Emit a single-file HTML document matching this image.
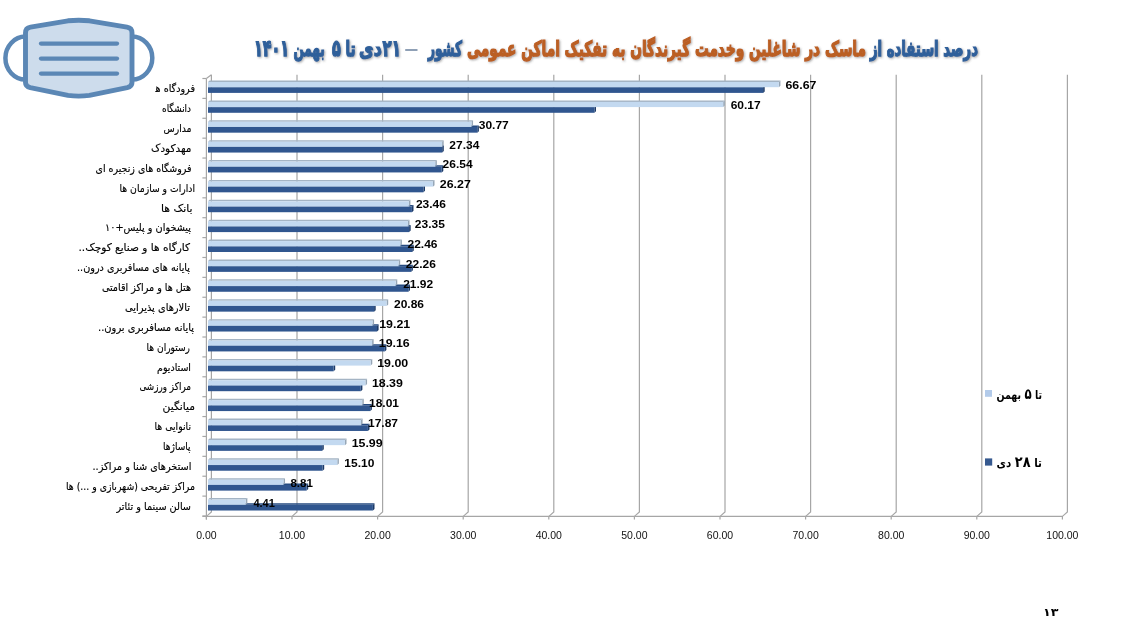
<!DOCTYPE html>
<html lang="fa">
<head>
<meta charset="utf-8">
<title>درصد استفاده از ماسک</title>
<style>
html,body{margin:0;padding:0;background:#fff;}
body{width:1143px;height:630px;position:relative;overflow:hidden;}
#chart{position:absolute;left:0;top:0;will-change:transform;}
</style>
</head>
<body>
<svg id="chart" width="1143" height="630" viewBox="0 0 1143 630">
<defs><filter id="tsh" x="-5%" y="-30%" width="110%" height="160%"><feGaussianBlur in="SourceAlpha" stdDeviation="0.8"/><feOffset dx="0.8" dy="0.8" result="b"/><feFlood flood-color="#505050" flood-opacity="0.5"/><feComposite in2="b" operator="in"/><feMerge><feMergeNode/><feMergeNode in="SourceGraphic"/></feMerge></filter></defs>
<g id="grid" fill="none" stroke="#a6a6a6" stroke-width="1.2"><path d="M211.4 74.8V512.0L206.4 516.4V519.6"/><path d="M297 74.8V512.0L292 516.4V519.6"/><path d="M382.6 74.8V512.0L377.6 516.4V519.6"/><path d="M468.2 74.8V512.0L463.2 516.4V519.6"/><path d="M553.8 74.8V512.0L548.8 516.4V519.6"/><path d="M639.4 74.8V512.0L634.4 516.4V519.6"/><path d="M725 74.8V512.0L720 516.4V519.6"/><path d="M810.6 74.8V512.0L805.6 516.4V519.6"/><path d="M896.2 74.8V512.0L891.2 516.4V519.6"/><path d="M981.8 74.8V512.0L976.8 516.4V519.6"/><path d="M1067.4 74.8V512.0L1062.4 516.4V519.6"/><path d="M206.4 78.5V519.6"/><path d="M206.4 78.5L211.4 74.8"/><path d="M202.4 516.4H1062.4"/><path d="M202.4 78.5H206.4"/><path d="M202.4 98.39H206.4"/><path d="M202.4 118.27H206.4"/><path d="M202.4 138.16H206.4"/><path d="M202.4 158.04H206.4"/><path d="M202.4 177.93H206.4"/><path d="M202.4 197.82H206.4"/><path d="M202.4 217.7H206.4"/><path d="M202.4 237.59H206.4"/><path d="M202.4 257.47H206.4"/><path d="M202.4 277.36H206.4"/><path d="M202.4 297.25H206.4"/><path d="M202.4 317.13H206.4"/><path d="M202.4 337.02H206.4"/><path d="M202.4 356.9H206.4"/><path d="M202.4 376.79H206.4"/><path d="M202.4 396.68H206.4"/><path d="M202.4 416.56H206.4"/><path d="M202.4 436.45H206.4"/><path d="M202.4 456.33H206.4"/><path d="M202.4 476.22H206.4"/><path d="M202.4 496.11H206.4"/><path d="M202.4 515.99H206.4"/></g>
<g id="bars"><path fill="#254a80" d="M208.0 87.2L209.6 85.7H764.7L763.1 87.2Z"/><path fill="#1d3b68" d="M763.1 87.2L764.7 85.7V91.4L763.1 92.9Z"/><rect fill="#30568f" x="208.0" y="87.2" width="555.1" height="5.7"/><path fill="#a4b4c4" d="M208.0 82L209.6 80.5H780.43L778.83 82Z"/><path fill="#96a6b6" d="M778.83 82L780.43 80.5V85.7L778.83 87.2Z"/><rect fill="#c3d9f0" x="208.0" y="82" width="570.83" height="5.2"/><path fill="#254a80" d="M208.0 107.09L209.6 105.59H596L594.4 107.09Z"/><path fill="#1d3b68" d="M594.4 107.09L596 105.59V111.29L594.4 112.79Z"/><rect fill="#30568f" x="208.0" y="107.09" width="386.4" height="5.7"/><path fill="#a4b4c4" d="M208.0 101.89L209.6 100.39H724.78L723.18 101.89Z"/><path fill="#96a6b6" d="M723.18 101.89L724.78 100.39V105.59L723.18 107.09Z"/><rect fill="#c3d9f0" x="208.0" y="101.89" width="515.18" height="5.2"/><path fill="#254a80" d="M208.0 126.97L209.6 125.47H478.9L477.3 126.97Z"/><path fill="#1d3b68" d="M477.3 126.97L478.9 125.47V131.17L477.3 132.67Z"/><rect fill="#30568f" x="208.0" y="126.97" width="269.3" height="5.7"/><path fill="#a4b4c4" d="M208.0 121.77L209.6 120.27H473.05L471.45 121.77Z"/><path fill="#96a6b6" d="M471.45 121.77L473.05 120.27V125.47L471.45 126.97Z"/><rect fill="#c3d9f0" x="208.0" y="121.77" width="263.45" height="5.2"/><path fill="#254a80" d="M208.0 146.86L209.6 145.36H443.8L442.2 146.86Z"/><path fill="#1d3b68" d="M442.2 146.86L443.8 145.36V151.06L442.2 152.56Z"/><rect fill="#30568f" x="208.0" y="146.86" width="234.2" height="5.7"/><path fill="#a4b4c4" d="M208.0 141.66L209.6 140.16H443.69L442.09 141.66Z"/><path fill="#96a6b6" d="M442.09 141.66L443.69 140.16V145.36L442.09 146.86Z"/><rect fill="#c3d9f0" x="208.0" y="141.66" width="234.09" height="5.2"/><path fill="#254a80" d="M208.0 166.74L209.6 165.24H443.3L441.7 166.74Z"/><path fill="#1d3b68" d="M441.7 166.74L443.3 165.24V170.94L441.7 172.44Z"/><rect fill="#30568f" x="208.0" y="166.74" width="233.7" height="5.7"/><path fill="#a4b4c4" d="M208.0 161.54L209.6 160.04H436.84L435.24 161.54Z"/><path fill="#96a6b6" d="M435.24 161.54L436.84 160.04V165.24L435.24 166.74Z"/><rect fill="#c3d9f0" x="208.0" y="161.54" width="227.24" height="5.2"/><path fill="#254a80" d="M208.0 186.63L209.6 185.13H425L423.4 186.63Z"/><path fill="#1d3b68" d="M423.4 186.63L425 185.13V190.83L423.4 192.33Z"/><rect fill="#30568f" x="208.0" y="186.63" width="215.4" height="5.7"/><path fill="#a4b4c4" d="M208.0 181.43L209.6 179.93H434.52L432.92 181.43Z"/><path fill="#96a6b6" d="M432.92 181.43L434.52 179.93V185.13L432.92 186.63Z"/><rect fill="#c3d9f0" x="208.0" y="181.43" width="224.92" height="5.2"/><path fill="#254a80" d="M208.0 206.52L209.6 205.02H413.5L411.9 206.52Z"/><path fill="#1d3b68" d="M411.9 206.52L413.5 205.02V210.72L411.9 212.22Z"/><rect fill="#30568f" x="208.0" y="206.52" width="203.9" height="5.7"/><path fill="#a4b4c4" d="M208.0 201.32L209.6 199.82H410.46L408.86 201.32Z"/><path fill="#96a6b6" d="M408.86 201.32L410.46 199.82V205.02L408.86 206.52Z"/><rect fill="#c3d9f0" x="208.0" y="201.32" width="200.86" height="5.2"/><path fill="#254a80" d="M208.0 226.4L209.6 224.9H410.7L409.1 226.4Z"/><path fill="#1d3b68" d="M409.1 226.4L410.7 224.9V230.6L409.1 232.1Z"/><rect fill="#30568f" x="208.0" y="226.4" width="201.1" height="5.7"/><path fill="#a4b4c4" d="M208.0 221.2L209.6 219.7H409.52L407.92 221.2Z"/><path fill="#96a6b6" d="M407.92 221.2L409.52 219.7V224.9L407.92 226.4Z"/><rect fill="#c3d9f0" x="208.0" y="221.2" width="199.92" height="5.2"/><path fill="#254a80" d="M208.0 246.29L209.6 244.79H413.8L412.2 246.29Z"/><path fill="#1d3b68" d="M412.2 246.29L413.8 244.79V250.49L412.2 251.99Z"/><rect fill="#30568f" x="208.0" y="246.29" width="204.2" height="5.7"/><path fill="#a4b4c4" d="M208.0 241.09L209.6 239.59H401.9L400.3 241.09Z"/><path fill="#96a6b6" d="M400.3 241.09L401.9 239.59V244.79L400.3 246.29Z"/><rect fill="#c3d9f0" x="208.0" y="241.09" width="192.3" height="5.2"/><path fill="#254a80" d="M208.0 266.17L209.6 264.67H412.9L411.3 266.17Z"/><path fill="#1d3b68" d="M411.3 266.17L412.9 264.67V270.37L411.3 271.87Z"/><rect fill="#30568f" x="208.0" y="266.17" width="203.3" height="5.7"/><path fill="#a4b4c4" d="M208.0 260.97L209.6 259.47H400.19L398.59 260.97Z"/><path fill="#96a6b6" d="M398.59 260.97L400.19 259.47V264.67L398.59 266.17Z"/><rect fill="#c3d9f0" x="208.0" y="260.97" width="190.59" height="5.2"/><path fill="#254a80" d="M208.0 286.06L209.6 284.56H410L408.4 286.06Z"/><path fill="#1d3b68" d="M408.4 286.06L410 284.56V290.26L408.4 291.76Z"/><rect fill="#30568f" x="208.0" y="286.06" width="200.4" height="5.7"/><path fill="#a4b4c4" d="M208.0 280.86L209.6 279.36H397.28L395.68 280.86Z"/><path fill="#96a6b6" d="M395.68 280.86L397.28 279.36V284.56L395.68 286.06Z"/><rect fill="#c3d9f0" x="208.0" y="280.86" width="187.68" height="5.2"/><path fill="#254a80" d="M208.0 305.95L209.6 304.45H375.7L374.1 305.95Z"/><path fill="#1d3b68" d="M374.1 305.95L375.7 304.45V310.15L374.1 311.65Z"/><rect fill="#30568f" x="208.0" y="305.95" width="166.1" height="5.7"/><path fill="#a4b4c4" d="M208.0 300.75L209.6 299.25H388.2L386.6 300.75Z"/><path fill="#96a6b6" d="M386.6 300.75L388.2 299.25V304.45L386.6 305.95Z"/><rect fill="#c3d9f0" x="208.0" y="300.75" width="178.6" height="5.2"/><path fill="#254a80" d="M208.0 325.83L209.6 324.33H378.6L377 325.83Z"/><path fill="#1d3b68" d="M377 325.83L378.6 324.33V330.03L377 331.53Z"/><rect fill="#30568f" x="208.0" y="325.83" width="169" height="5.7"/><path fill="#a4b4c4" d="M208.0 320.63L209.6 319.13H374.08L372.48 320.63Z"/><path fill="#96a6b6" d="M372.48 320.63L374.08 319.13V324.33L372.48 325.83Z"/><rect fill="#c3d9f0" x="208.0" y="320.63" width="164.48" height="5.2"/><path fill="#254a80" d="M208.0 345.72L209.6 344.22H386.4L384.8 345.72Z"/><path fill="#1d3b68" d="M384.8 345.72L386.4 344.22V349.92L384.8 351.42Z"/><rect fill="#30568f" x="208.0" y="345.72" width="176.8" height="5.7"/><path fill="#a4b4c4" d="M208.0 340.52L209.6 339.02H373.65L372.05 340.52Z"/><path fill="#96a6b6" d="M372.05 340.52L373.65 339.02V344.22L372.05 345.72Z"/><rect fill="#c3d9f0" x="208.0" y="340.52" width="164.05" height="5.2"/><path fill="#254a80" d="M208.0 365.6L209.6 364.1H335.2L333.6 365.6Z"/><path fill="#1d3b68" d="M333.6 365.6L335.2 364.1V369.8L333.6 371.3Z"/><rect fill="#30568f" x="208.0" y="365.6" width="125.6" height="5.7"/><path fill="#a4b4c4" d="M208.0 360.4L209.6 358.9H372.28L370.68 360.4Z"/><path fill="#96a6b6" d="M370.68 360.4L372.28 358.9V364.1L370.68 365.6Z"/><rect fill="#c3d9f0" x="208.0" y="360.4" width="162.68" height="5.2"/><path fill="#254a80" d="M208.0 385.49L209.6 383.99H362.4L360.8 385.49Z"/><path fill="#1d3b68" d="M360.8 385.49L362.4 383.99V389.69L360.8 391.19Z"/><rect fill="#30568f" x="208.0" y="385.49" width="152.8" height="5.7"/><path fill="#a4b4c4" d="M208.0 380.29L209.6 378.79H367.06L365.46 380.29Z"/><path fill="#96a6b6" d="M365.46 380.29L367.06 378.79V383.99L365.46 385.49Z"/><rect fill="#c3d9f0" x="208.0" y="380.29" width="157.46" height="5.2"/><path fill="#254a80" d="M208.0 405.38L209.6 403.88H371.9L370.3 405.38Z"/><path fill="#1d3b68" d="M370.3 405.38L371.9 403.88V409.58L370.3 411.08Z"/><rect fill="#30568f" x="208.0" y="405.38" width="162.3" height="5.7"/><path fill="#a4b4c4" d="M208.0 400.18L209.6 398.68H363.8L362.2 400.18Z"/><path fill="#96a6b6" d="M362.2 400.18L363.8 398.68V403.88L362.2 405.38Z"/><rect fill="#c3d9f0" x="208.0" y="400.18" width="154.2" height="5.2"/><path fill="#254a80" d="M208.0 425.26L209.6 423.76H369.5L367.9 425.26Z"/><path fill="#1d3b68" d="M367.9 425.26L369.5 423.76V429.46L367.9 430.96Z"/><rect fill="#30568f" x="208.0" y="425.26" width="159.9" height="5.7"/><path fill="#a4b4c4" d="M208.0 420.06L209.6 418.56H362.6L361 420.06Z"/><path fill="#96a6b6" d="M361 420.06L362.6 418.56V423.76L361 425.26Z"/><rect fill="#c3d9f0" x="208.0" y="420.06" width="153" height="5.2"/><path fill="#254a80" d="M208.0 445.15L209.6 443.65H323.8L322.2 445.15Z"/><path fill="#1d3b68" d="M322.2 445.15L323.8 443.65V449.35L322.2 450.85Z"/><rect fill="#30568f" x="208.0" y="445.15" width="114.2" height="5.7"/><path fill="#a4b4c4" d="M208.0 439.95L209.6 438.45H346.51L344.91 439.95Z"/><path fill="#96a6b6" d="M344.91 439.95L346.51 438.45V443.65L344.91 445.15Z"/><rect fill="#c3d9f0" x="208.0" y="439.95" width="136.91" height="5.2"/><path fill="#254a80" d="M208.0 465.03L209.6 463.53H324.2L322.6 465.03Z"/><path fill="#1d3b68" d="M322.6 465.03L324.2 463.53V469.23L322.6 470.73Z"/><rect fill="#30568f" x="208.0" y="465.03" width="114.6" height="5.7"/><path fill="#a4b4c4" d="M208.0 459.83L209.6 458.33H338.89L337.29 459.83Z"/><path fill="#96a6b6" d="M337.29 459.83L338.89 458.33V463.53L337.29 465.03Z"/><rect fill="#c3d9f0" x="208.0" y="459.83" width="129.29" height="5.2"/><path fill="#254a80" d="M208.0 484.92L209.6 483.42H308.2L306.6 484.92Z"/><path fill="#1d3b68" d="M306.6 484.92L308.2 483.42V489.12L306.6 490.62Z"/><rect fill="#30568f" x="208.0" y="484.92" width="98.6" height="5.7"/><path fill="#a4b4c4" d="M208.0 479.72L209.6 478.22H285.03L283.43 479.72Z"/><path fill="#96a6b6" d="M283.43 479.72L285.03 478.22V483.42L283.43 484.92Z"/><rect fill="#c3d9f0" x="208.0" y="479.72" width="75.43" height="5.2"/><path fill="#254a80" d="M208.0 504.81L209.6 503.31H374.5L372.9 504.81Z"/><path fill="#1d3b68" d="M372.9 504.81L374.5 503.31V509.01L372.9 510.51Z"/><rect fill="#30568f" x="208.0" y="504.81" width="164.9" height="5.7"/><path fill="#a4b4c4" d="M208.0 499.61L209.6 498.11H247.36L245.76 499.61Z"/><path fill="#96a6b6" d="M245.76 499.61L247.36 498.11V503.31L245.76 504.81Z"/><rect fill="#c3d9f0" x="208.0" y="499.61" width="37.76" height="5.2"/></g>
<g font-family="Liberation Sans, DejaVu Sans, sans-serif" font-size="11" font-weight="bold" fill="#000"><text id="v0" class="cal" x="785.45" y="88.9" textLength="31" lengthAdjust="spacingAndGlyphs">66.67</text><text id="v1" class="cal" x="730.7" y="108.79" textLength="30" lengthAdjust="spacingAndGlyphs">60.17</text><text id="v2" class="cal" x="478.75" y="128.67" textLength="30" lengthAdjust="spacingAndGlyphs">30.77</text><text id="v3" class="cal" x="449.35" y="148.56" textLength="30" lengthAdjust="spacingAndGlyphs">27.34</text><text id="v4" class="cal" x="442.6" y="168.44" textLength="30" lengthAdjust="spacingAndGlyphs">26.54</text><text id="v5" class="cal" x="439.8" y="188.33" textLength="31" lengthAdjust="spacingAndGlyphs">26.27</text><text id="v6" class="cal" x="415.9" y="208.22" textLength="30" lengthAdjust="spacingAndGlyphs">23.46</text><text id="v7" class="cal" x="414.8" y="228.1" textLength="30" lengthAdjust="spacingAndGlyphs">23.35</text><text id="v8" class="cal" x="407.5" y="247.99" textLength="30" lengthAdjust="spacingAndGlyphs">22.46</text><text id="v9" class="cal" x="405.85" y="267.87" textLength="30" lengthAdjust="spacingAndGlyphs">22.26</text><text id="v10" class="cal" x="403.2" y="287.76" textLength="30" lengthAdjust="spacingAndGlyphs">21.92</text><text id="v11" class="cal" x="394" y="307.65" textLength="30" lengthAdjust="spacingAndGlyphs">20.86</text><text id="v12" class="cal" x="379.2" y="327.53" textLength="31" lengthAdjust="spacingAndGlyphs">19.21</text><text id="v13" class="cal" x="378.75" y="347.42" textLength="31" lengthAdjust="spacingAndGlyphs">19.16</text><text id="v14" class="cal" x="377.2" y="367.3" textLength="31" lengthAdjust="spacingAndGlyphs">19.00</text><text id="v15" class="cal" x="371.9" y="387.19" textLength="31" lengthAdjust="spacingAndGlyphs">18.39</text><text id="v16" class="cal" x="369" y="407.08" textLength="30" lengthAdjust="spacingAndGlyphs">18.01</text><text id="v17" class="cal" x="368" y="426.96" textLength="30" lengthAdjust="spacingAndGlyphs">17.87</text><text id="v18" class="cal" x="351.65" y="446.85" textLength="31" lengthAdjust="spacingAndGlyphs">15.99</text><text id="v19" class="cal" x="344.35" y="466.73" textLength="30" lengthAdjust="spacingAndGlyphs">15.10</text><text id="v20" class="cal" x="290.45" y="486.62" textLength="22.5" lengthAdjust="spacingAndGlyphs">8.81</text><text id="v21" class="cal" x="253.4" y="506.51" textLength="21.5" lengthAdjust="spacingAndGlyphs">4.41</text></g>
<g id="xlab" font-family="Liberation Sans, DejaVu Sans, sans-serif" font-size="10.5" fill="#111" text-anchor="middle"><text x="206.4" y="539">0.00</text><text x="292" y="539">10.00</text><text x="377.6" y="539">20.00</text><text x="463.2" y="539">30.00</text><text x="548.8" y="539">40.00</text><text x="634.4" y="539">50.00</text><text x="720" y="539">60.00</text><text x="805.6" y="539">70.00</text><text x="891.2" y="539">80.00</text><text x="976.8" y="539">90.00</text><text x="1062.4" y="539">100.00</text></g>
<g font-family="DejaVu Sans, sans-serif" font-size="10.5" fill="#000" stroke="#000" stroke-width="0.15" text-anchor="start" direction="rtl"><text id="c0" class="cal" x="195" y="92.2" textLength="39.5" lengthAdjust="spacingAndGlyphs">فرودگاه ه‍</text><text id="c1" class="cal" x="191" y="112.09" textLength="29" lengthAdjust="spacingAndGlyphs">دانشگاه</text><text id="c2" class="cal" x="191.5" y="131.97" textLength="28" lengthAdjust="spacingAndGlyphs">مدارس</text><text id="c3" class="cal" x="191.5" y="151.86" textLength="40.5" lengthAdjust="spacingAndGlyphs">مهدکودک</text><text id="c4" class="cal" x="191.5" y="171.74" textLength="96" lengthAdjust="spacingAndGlyphs">فروشگاه های زنجیره ای</text><text id="c5" class="cal" x="195" y="191.63" textLength="75.5" lengthAdjust="spacingAndGlyphs">ادارات و سازمان ها</text><text id="c6" class="cal" x="192.5" y="211.52" textLength="31.5" lengthAdjust="spacingAndGlyphs">بانک ها</text><text id="c7" class="cal" x="191" y="231.4" textLength="86" lengthAdjust="spacingAndGlyphs">پیشخوان و پلیس+۱۰</text><text id="c8" class="cal" x="190" y="251.29" textLength="111.5" lengthAdjust="spacingAndGlyphs">کارگاه ها و صنایع کوچک..</text><text id="c9" class="cal" x="190" y="271.17" textLength="113" lengthAdjust="spacingAndGlyphs">پایانه های مسافربری درون..</text><text id="c10" class="cal" x="191" y="291.06" textLength="89" lengthAdjust="spacingAndGlyphs">هتل ها و مراکز اقامتی</text><text id="c11" class="cal" x="190" y="310.95" textLength="65" lengthAdjust="spacingAndGlyphs">تالارهای پذیرایی</text><text id="c12" class="cal" x="194" y="330.83" textLength="96" lengthAdjust="spacingAndGlyphs">پایانه مسافربری برون..</text><text id="c13" class="cal" x="190" y="350.72" textLength="43.5" lengthAdjust="spacingAndGlyphs">رستوران ها</text><text id="c14" class="cal" x="191" y="370.6" textLength="34" lengthAdjust="spacingAndGlyphs">استادیوم</text><text id="c15" class="cal" x="191" y="390.49" textLength="51.5" lengthAdjust="spacingAndGlyphs">مراکز ورزشی</text><text id="c16" class="cal" x="195" y="410.38" textLength="32.5" lengthAdjust="spacingAndGlyphs">میانگین</text><text id="c17" class="cal" x="191" y="430.26" textLength="36.5" lengthAdjust="spacingAndGlyphs">نانوایی ها</text><text id="c18" class="cal" x="190.5" y="450.15" textLength="27.5" lengthAdjust="spacingAndGlyphs">پاساژها</text><text id="c19" class="cal" x="191.5" y="470.03" textLength="99" lengthAdjust="spacingAndGlyphs">استخرهای شنا و مراکز..</text><text id="c20" class="cal" x="195" y="489.92" textLength="129" lengthAdjust="spacingAndGlyphs">مراکز تفریحی (شهربازی و ...) ها</text><text id="c21" class="cal" x="191" y="509.81" textLength="74.5" lengthAdjust="spacingAndGlyphs">سالن سینما و تئاتر</text></g>
<g id="legsq">
<rect x="985" y="390" width="7" height="6.8" fill="#b3cbea"/>
<rect x="985" y="458.4" width="7.2" height="7.2" fill="#36598f"/>
</g>
<g font-family="DejaVu Sans, sans-serif" font-size="12" font-weight="bold" fill="#000" text-anchor="start" direction="rtl">
<text id="l1" class="cal" x="1042" y="399.2" textLength="45.5" lengthAdjust="spacingAndGlyphs">تا <tspan font-size="15">۵</tspan> بهمن</text>
<text id="l2" class="cal" x="1042" y="467" textLength="45.5" lengthAdjust="spacingAndGlyphs">تا <tspan font-size="15">۲۸</tspan> دی</text>
</g>
<g font-family="DejaVu Sans, sans-serif" font-size="11" font-weight="bold" fill="#000" text-anchor="start" direction="rtl"><text id="pg" class="cal" x="1058.5" y="615.8" textLength="15.5" lengthAdjust="spacingAndGlyphs">۱۳</text></g>
<g font-family="DejaVu Sans, sans-serif" font-weight="bold" font-size="21" text-anchor="start" direction="rtl" filter="url(#tsh)" stroke-width="1.25" paint-order="stroke"><text id="t1" class="cal" x="978" y="55.6" textLength="108" lengthAdjust="spacingAndGlyphs" fill="#2f5f9a" stroke="#2f5f9a" font-size="21">درصد استفاده از</text><text id="t2" class="cal" x="866" y="55.6" textLength="399" lengthAdjust="spacingAndGlyphs" fill="#bb5e24" stroke="#bb5e24" font-size="21">ماسک در شاغلین وخدمت گیرندگان به تفکیک اماکن عمومی</text><text id="t3" class="cal" x="462" y="55.6" textLength="34" lengthAdjust="spacingAndGlyphs" fill="#2f5f9a" stroke="#2f5f9a" font-size="21">کشور</text><text id="t4a" class="cal" x="289.1" y="55.6" textLength="35.1" lengthAdjust="spacingAndGlyphs" fill="#2f5f9a" stroke="#2f5f9a" font-size="22.5">۱۴۰۱</text><text id="t4b" class="cal" x="324.9" y="55.6" textLength="31.5" lengthAdjust="spacingAndGlyphs" fill="#2f5f9a" stroke="#2f5f9a" font-size="21">بهمن</text><text id="t4c" class="cal" x="340.7" y="55.6" textLength="8.8" lengthAdjust="spacingAndGlyphs" fill="#2f5f9a" stroke="#2f5f9a" font-size="22.5">۵</text><text id="t4d" class="cal" x="355.6" y="55.6" textLength="10" lengthAdjust="spacingAndGlyphs" fill="#2f5f9a" stroke="#2f5f9a" font-size="21">تا</text><text id="t4e" class="cal" x="381.8" y="55.6" textLength="22.7" lengthAdjust="spacingAndGlyphs" fill="#2f5f9a" stroke="#2f5f9a" font-size="21">دی</text><text id="t4f" class="cal" x="400.8" y="55.6" textLength="18.3" lengthAdjust="spacingAndGlyphs" fill="#2f5f9a" stroke="#2f5f9a" font-size="22.5">۲۱</text></g>
<path id="dash" d="M405.2 50H417.5" stroke="#5f7897" stroke-width="1.4"/>
</svg>
<svg id="mask" width="160" height="100" viewBox="0 0 160 100" style="position:absolute;left:0;top:0">
<g fill="none" stroke="#5b87b5" stroke-width="4.5">
<path d="M25.5 36.6 C14.3 36.6 5.4 46.3 5.4 58 C5.4 69.7 14.3 79.6 25.5 79.6"/>
<path d="M132 36.6 C143.2 36.6 152.3 46.3 152.3 58 C152.3 69.7 143.2 79.6 132 79.6"/>
</g>
<path d="M25.5 33 Q25.5 28 30.5 27.2 L68 20.8 Q78.7 19.7 89.4 20.8 L127 27.2 Q132 28 132 33 L132 82.5 Q132 86.5 127.2 87.7 L89.4 95.4 Q78.7 96.9 68 95.4 L30.3 87.7 Q25.5 86.5 25.5 82.5 Z" fill="#cddcec" stroke="#5b87b5" stroke-width="4.9" stroke-linejoin="round"/>
<g stroke="#5b87b5" stroke-width="4.3" stroke-linecap="round">
<line x1="41" y1="43.6" x2="117" y2="43.6"/>
<line x1="41" y1="58.6" x2="117" y2="58.6"/>
<line x1="41" y1="73.6" x2="117" y2="73.6"/>
</g>
</svg>
</body>
</html>
